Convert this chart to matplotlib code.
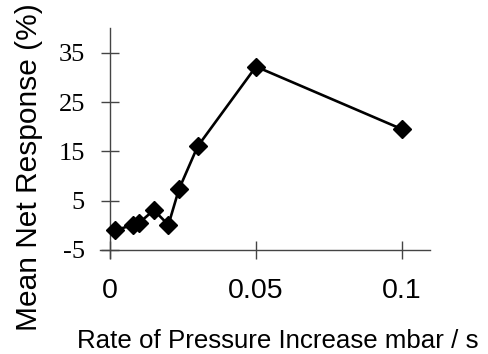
import numpy as np
import matplotlib.pyplot as plt

# rate of pressure increase (mbar/s) vs mean net response (%)
rate = [0.0017, 0.008, 0.010, 0.015, 0.020, 0.0236, 0.030, 0.050, 0.100]
response = [-1.0, 0.1, 0.5, 3.1, 0.1, 7.3, 16.0, 32.2, 19.5]

xticks = [0, 0.05, 0.1]
xtick_labels = ['0', '0.05', '0.1']
yticks = [-5, 5, 15, 25, 35]

W, H = 489, 354
fig = plt.figure(figsize=(W / 100, H / 100), dpi=100)
# axes box in pixels: left 100, right 430, top 28, bottom 258
ax = fig.add_axes([100 / W, 1 - 258 / H, 330 / W, 230 / H])

ax.plot(rate, response, color='black', lw=1.9, marker='D', ms=9, zorder=3)

ax.set_xlim(-10 / 2920, 320 / 2920)
ax.set_ylim(-5 - 8 / 4.93, -5 + 222 / 4.93)

for s in ['top', 'right']:
    ax.spines[s].set_visible(False)
ax.spines['left'].set_position(('data', 0))
ax.spines['bottom'].set_position(('data', -5))
for s in ['left', 'bottom']:
    ax.spines[s].set_color('#444444')
    ax.spines[s].set_linewidth(1.0)

ax.set_xticks(xticks)
ax.set_xticklabels(xtick_labels, family='Liberation Sans', fontsize=20.5)
ax.set_yticks(yticks)
ax.set_yticklabels([str(v) for v in yticks], family='Liberation Serif', fontsize=19)
ax.tick_params(axis='both', direction='inout', length=13, width=1.0, color='#444444')
ax.tick_params(axis='x', pad=14)
ax.tick_params(axis='y', pad=11.5)

fig.text(29 / W, 1 - 167 / H, 'Mean Net Response (%)', rotation=90, family='Liberation Sans',
         fontsize=21.5, ha='center', va='center')
fig.text(278 / W, 1 - 348 / H, 'Rate of Pressure Increase mbar / s', family='Liberation Sans',
         fontsize=18.6, ha='center', va='baseline')

fig.savefig('out.png', dpi=100)
